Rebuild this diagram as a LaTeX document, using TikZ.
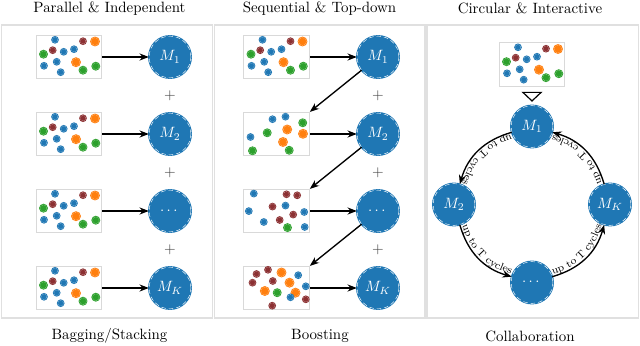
\documentclass[tikz,border=0pt]{standalone}
\usepackage{amsmath}
\usepackage{amssymb}
\usepackage{tikz}
\usetikzlibrary{positioning, arrows.meta, calc, decorations.text}
\definecolor{tabblue}{RGB}{31,119,180}
\definecolor{taborange}{RGB}{255,127,14}
\definecolor{tabgreen}{RGB}{44,160,44}
\definecolor{tabmaroon}{RGB}{140,48,50}
\tikzset{
  panel/.style = {draw=black!12, line width=1pt},
  dset/.style  = {draw=black!15, fill=white, line width=0.6pt, inner sep=0pt,
                  minimum width=44pt, minimum height=29pt},
  mdl/.style   = {circle, minimum size=28pt, inner sep=0pt, fill=tabblue,
                  draw=white, densely dashed, line width=0.3pt, text=white,
                  preaction={draw=tabblue, solid, line width=1.4pt}},
  ar/.style    = {-{Stealth[length=2.2mm]}, line width=0.9pt},
  cyc/.style   = {-{Stealth[length=2.2mm]}, line width=0.9pt,
                  postaction={decorate, decoration={text along path,
                  text={|\scriptsize|up to T cycles}, text align=center, raise=1.5pt}}},
  feed/.style  = {-{Triangle[open, length=6.7pt, width=14pt]}, line width=0.8pt,
                  shorten <=4pt, shorten >=2.4pt},
  plus/.style  = {text=black!75},
  dot/.style   = {fill=#1, draw=white!55!#1, dash pattern=on 0.8pt off 0.5pt,
                  line width=0.2pt, preaction={draw=#1, solid, line width=1.3pt}},
  bl/.style    = {dot=tabblue, radius=2.8},
  rd/.style    = {dot=tabmaroon, radius=2.8},
  gr/.style    = {dot=tabgreen, radius=3.4},
  og/.style    = {dot=taborange, radius=3.9},
}
% the original sample
\newcommand{\dataorig}[1]{%
  \begin{scope}[shift={(#1.center)}]
    \draw[bl] (-14,17.2) circle;
    \draw[rd] (14,15.8) circle;
    \draw[og] (26,15.5) circle;
    \draw[rd] (-16.3,6.8) circle;
    \draw[gr] (-25.5,2.8) circle;
    \draw[bl] (-5.3,5.2) circle;
    \draw[bl] (5,7.8) circle;
    \draw[bl] (-12.3,-4.8) circle;
    \draw[bl] (-25,-8.8) circle;
    \draw[og] (7,-5.2) circle;
    \draw[gr] (14,-13.2) circle;
    \draw[gr] (26.8,-9.2) circle;
    \draw[bl] (-8.3,-15.2) circle;
  \end{scope}}
% reweighted samples
\newcommand{\datasecond}[1]{%
  \begin{scope}[shift={(#1.center)}]
    \draw[bl] (-4,14.8) circle;
    \draw[bl] (9,17.3) circle;
    \draw[gr] (26.2,11.2) circle;
    \draw[bl] (-26,-3) circle;
    \draw[gr] (-9.3,1.2) circle;
    \draw[og] (10.7,4.5) circle;
    \draw[og] (26.5,0.2) circle;
    \draw[og] (6.5,-8) circle;
    \draw[gr] (-24,-16.8) circle;
    \draw[gr] (12.7,-16.3) circle;
  \end{scope}}
\newcommand{\datathird}[1]{%
  \begin{scope}[shift={(#1.center)}]
    \draw[bl] (-22.7,17.4) circle;
    \draw[rd] (10,16.7) circle;
    \draw[rd] (20.7,15.7) circle;
    \draw[bl] (-27.7,-0.1) circle;
    \draw[rd] (-4,4.4) circle;
    \draw[bl] (9,5.4) circle;
    \draw[rd] (16.7,-3.6) circle;
    \draw[bl] (27.7,-1) circle;
    \draw[bl] (-12.7,-11) circle;
    \draw[rd] (3.2,-9) circle;
    \draw[gr] (11,-16.6) circle;
    \draw[bl] (28.2,-16) circle;
  \end{scope}}
\newcommand{\datafourth}[1]{%
  \begin{scope}[shift={(#1.center)}]
    \draw[rd] (-20,14) circle;
    \draw[rd] (-8.5,18.2) circle;
    \draw[og] (5,15.5) circle;
    \draw[bl] (21.7,12.8) circle;
    \draw[rd] (-24,5.3) circle;
    \draw[rd] (-3.7,7) circle;
    \draw[og] (13,5.3) circle;
    \draw[bl] (29.3,1.7) circle;
    \draw[og] (-11.7,-3) circle;
    \draw[gr] (0.7,-4.7) circle;
    \draw[og] (19,-4.7) circle;
    \draw[bl] (14,-9.3) circle;
    \draw[rd] (29.3,-11.3) circle;
    \draw[rd] (-4.3,-17.7) circle;
  \end{scope}}

\begin{document}
\begin{tikzpicture}[x=0.67pt, y=0.67pt, every node/.style={font=\normalsize}]
    \useasboundingbox (0,0) rectangle (640,-346);
    % frames
    \draw[panel] (1.5,-25) rectangle (212.5,-318);
    \draw[panel] (214.5,-25) rectangle (425,-318);
    \draw[panel] (427,-25) rectangle (638.5,-318);
    % titles
    \node (ttlbag) at (109.5,-8.5) {Parallel \& Independent};
    \node (ttlboo) at (319.5,-8.5) {Sequential \& Top-down};
    \node (ttlcol) at (530,-8.5) {Circular \& Interactive};
    \node (capbag) at (109.5,-336) {Bagging/Stacking};
    \node (capboo) at (320,-336) {Boosting};
    \node (capcol) at (530,-336) {Collaboration};

    % bagging
    \node[dset] (bagd1) at (69,-57) {};
    \node[dset] (bagd2) at (69,-134) {};
    \node[dset] (bagd3) at (69,-211) {};
    \node[dset] (bagd4) at (69,-288) {};
    \dataorig{bagd1}
    \dataorig{bagd2}
    \dataorig{bagd3}
    \dataorig{bagd4}
    \node[mdl] (bagm1) at (170,-57) {$M_1$};
    \node[mdl] (bagm2) at (170,-134) {$M_2$};
    \node[mdl] (bagm3) at (170,-211) {$\cdots$};
    \node[mdl] (bagm4) at (170,-288) {$M_K$};
    \node[plus] (bagp1) at (170,-95.5) {$+$};
    \node[plus] (bagp2) at (170,-172.5) {$+$};
    \node[plus] (bagp3) at (170,-249.5) {$+$};
    \draw[ar] (bagd1) -- (bagm1);
    \draw[ar] (bagd2) -- (bagm2);
    \draw[ar] (bagd3) -- (bagm3);
    \draw[ar] (bagd4) -- (bagm4);

    % boosting
    \node[dset] (bood1) at (276.5,-57) {};
    \node[dset] (bood2) at (276.5,-134) {};
    \node[dset] (bood3) at (276.5,-211) {};
    \node[dset] (bood4) at (276.5,-288) {};
    \dataorig{bood1}
    \datasecond{bood2}
    \datathird{bood3}
    \datafourth{bood4}
    \node[mdl] (boom1) at (378,-57) {$M_1$};
    \node[mdl] (boom2) at (378,-134) {$M_2$};
    \node[mdl] (boom3) at (378,-211) {$\cdots$};
    \node[mdl] (boom4) at (378,-288) {$M_K$};
    \node[plus] (boop1) at (378,-95.5) {$+$};
    \node[plus] (boop2) at (378,-172.5) {$+$};
    \node[plus] (boop3) at (378,-249.5) {$+$};
    \draw[ar] (bood1) -- (boom1);
    \draw[ar] (bood2) -- (boom2);
    \draw[ar] (bood3) -- (boom3);
    \draw[ar] (bood4) -- (boom4);
    \draw[ar] (boom1) -- (bood2.north east);
    \draw[ar] (boom2) -- (bood3.north east);
    \draw[ar] (boom3) -- (bood4.north east);

    % collaboration
    \node[dset] (cold) at (532,-64.5) {};
    \dataorig{cold}
    \node[mdl] (colm1) at (532,-126.5) {$M_1$};
    \node[mdl] (colm2) at (454,-204.5) {$M_2$};
    \node[mdl] (colm3) at (532,-282.5) {$\cdots$};
    \node[mdl] (colmk) at (610,-204.5) {$M_K$};
    \draw[feed] (cold) -- (colm1);
    \draw[cyc] (colm1) to[out=196, in=74] (colm2);
    \draw[cyc] (colm2) to[out=286, in=164] (colm3);
    \draw[cyc] (colm3) to[out=16, in=254] (colmk);
    \draw[cyc] (colmk) to[out=106, in=-16] (colm1);
\end{tikzpicture}
\end{document}
